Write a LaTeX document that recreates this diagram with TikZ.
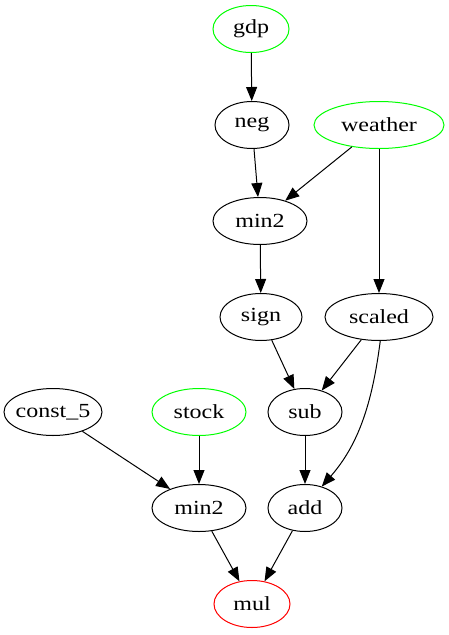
\documentclass[tikz,border=0pt]{standalone}
\usepackage{fontspec}
\newfontfamily\lbl[FakeStretch=1.2]{Liberation Serif}
\usetikzlibrary{shapes.geometric,arrows.meta}
\definecolor{gvgreen}{RGB}{0,255,0}
\definecolor{gvred}{RGB}{255,0,0}
\tikzset{
  nd/.style={ellipse, draw=black, line width=1pt, inner sep=0pt, minimum height=47pt, font=\lbl\fontsize{20}{24}\selectfont},
  src/.style={nd, draw=gvgreen},
  snk/.style={nd, draw=gvred},
  edge/.style={line width=1pt, -{Triangle[length=14pt,width=11pt]}}
}
\begin{document}
\begin{tikzpicture}[x=1pt,y=-1pt]
\useasboundingbox (0,0) rectangle (449,635);
\node[src, minimum width=76pt] (gdp) at (251,29) {gdp};
\node[nd, minimum width=74pt] (neg) at (252,125) {neg};
\node[src, minimum width=130pt] (weather) at (379,125) {weather};
\node[nd, minimum width=94pt] (min2a) at (260,221) {min2};
\node[nd, minimum width=82pt] (sign) at (261,317) {sign};
\node[nd, minimum width=108pt] (scaled) at (379,317) {scaled};
\node[nd, minimum width=98pt, inner xsep=-4pt] (const) at (53,412) {const\_5};
\node[src, minimum width=94pt] (stock) at (199,412) {stock};
\node[nd, minimum width=74pt] (sub) at (305,412) {sub};
\node[nd, minimum width=94pt] (min2b) at (199,508) {min2};
\node[nd, minimum width=74pt] (add) at (305,508) {add};
\node[snk, minimum width=76pt] (mul) at (252,604) {mul};
\draw[edge] (gdp) -- (neg);
\draw[edge] (neg) -- (min2a);
\draw[edge] (weather) -- (min2a);
\draw[edge] (weather) -- (scaled);
\draw[edge] (min2a) -- (sign);
\draw[edge] (sign) -- (sub);
\draw[edge] (scaled) -- (sub);
\draw[edge] (scaled.-87) .. controls (372,405) and (358,445) .. (add.52);
\draw[edge] (sub) -- (add);
\draw[edge] (const) -- (min2b);
\draw[edge] (stock) -- (min2b);
\draw[edge] (min2b) -- (mul);
\draw[edge] (add) -- (mul);
\end{tikzpicture}
\end{document}
